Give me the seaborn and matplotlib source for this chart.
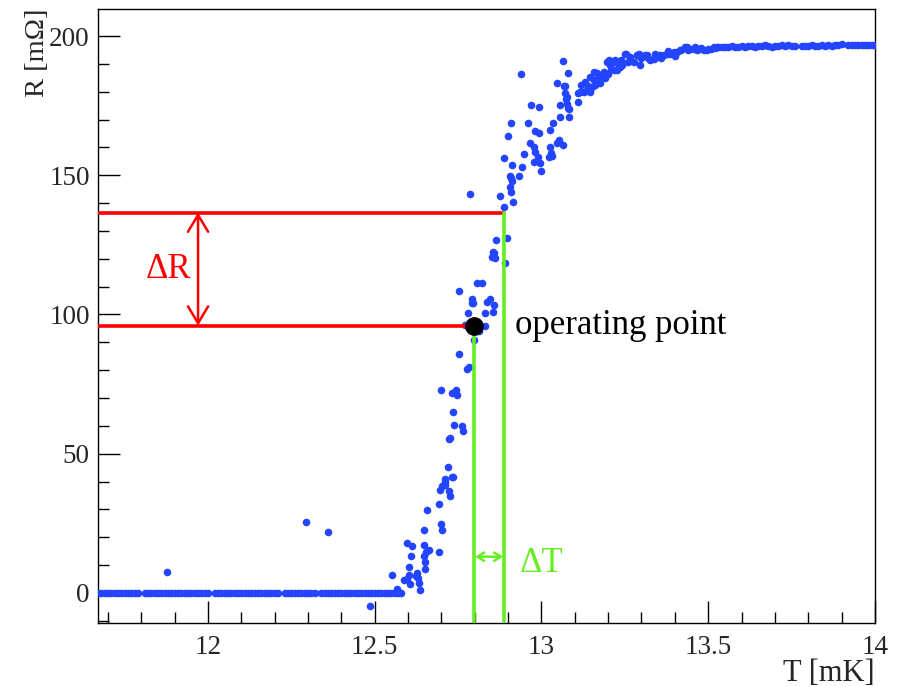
import numpy as np
import pandas as pd
import matplotlib
matplotlib.use("Agg")
import matplotlib.pyplot as plt
import seaborn as sns

# superconducting transition, R vs T
flat_t = [11.67, 11.68, 11.69, 11.70, 11.71, 11.72, 11.73, 11.74, 11.75, 11.76, 11.77, 11.78, 11.79,
          11.81, 11.82, 11.83, 11.84, 11.85, 11.86, 11.87, 11.88, 11.89, 11.90, 11.91, 11.92, 11.93,
          11.94, 11.95, 11.96, 11.97, 11.98, 11.99, 12.00, 12.02, 12.03, 12.04, 12.05, 12.06, 12.07,
          12.08, 12.09, 12.10, 12.11, 12.12, 12.13, 12.14, 12.15, 12.16, 12.17, 12.18, 12.19, 12.20,
          12.21, 12.23, 12.24, 12.25, 12.26, 12.27, 12.28, 12.29, 12.30, 12.31, 12.32, 12.34, 12.35,
          12.36, 12.37, 12.38, 12.39, 12.40, 12.41, 12.42, 12.43, 12.44, 12.45, 12.46, 12.47, 12.48,
          12.49, 12.50, 12.51, 12.52, 12.53, 12.54, 12.55, 12.56, 12.57, 12.58]
flat_r = [0.0] * len(flat_t)

trans_t = [11.876, 12.294, 12.359, 12.486, 12.553, 12.567, 12.589, 12.597, 12.602, 12.602, 12.605,
           12.597, 12.612, 12.610, 12.627, 12.629, 12.632, 12.635, 12.625, 12.652, 12.652, 12.649,
           12.655, 12.662, 12.647, 12.647, 12.657, 12.692, 12.700, 12.702, 12.692, 12.697, 12.702,
           12.712, 12.722, 12.727, 12.712, 12.719, 12.732, 12.710, 12.735, 12.722, 12.727, 12.737,
           12.762, 12.764, 12.735, 12.699, 12.732, 12.745, 12.747, 12.782, 12.777, 12.754, 12.799,
           12.771, 12.832, 12.814, 12.779, 12.830, 12.793, 12.796, 12.791, 12.847, 12.836, 12.859,
           12.855, 12.754, 12.807, 12.822, 12.890, 12.857, 12.852, 12.862, 12.854, 12.863, 12.897,
           12.787, 12.877, 12.887, 12.915, 12.905, 12.910, 12.912, 12.905, 12.910, 12.934, 12.913,
           12.942, 12.887, 12.947, 12.899, 12.909, 12.960, 12.940, 12.965, 12.977, 12.982, 12.989,
           12.977, 12.997, 12.999, 12.982, 12.992, 12.970, 12.994, 13.025, 13.029, 13.022, 13.032,
           13.052, 13.047, 13.065, 13.027, 13.035, 13.057, 13.084, 13.057, 13.071, 13.074, 13.076,
           13.079, 13.082, 13.047, 13.067, 13.065, 13.079, 13.110, 13.109, 13.072, 13.077]
trans_r = [7.5, 25.5, 22.0, -4.8, 6.5, 1.5, 4.5, 5.1, 6.5, 9.3, 3.3,
           17.9, 16.7, 13.4, 7.2, 5.4, 3.6, 1.2, 6.0, 8.6, 11.0, 13.4,
           14.6, 15.3, 17.3, 22.7, 29.6, 14.6, 24.9, 22.5, 32.0, 37.1, 38.3,
           38.9, 36.5, 34.9, 40.0, 45.2, 41.6, 40.9, 41.6, 55.3, 55.7, 60.3,
           60.0, 58.2, 65.0, 72.9, 71.8, 72.9, 70.9, 81.3, 80.4, 85.8, 90.9,
           96.3, 95.9, 93.9, 100.7, 100.7, 105.5, 104.0, 104.0, 105.5, 104.3, 103.4,
           101.0, 108.6, 111.2, 111.2, 118.4, 122.0, 120.6, 120.2, 122.6, 126.8, 127.4,
           143.2, 142.6, 138.7, 140.5, 145.7, 144.1, 148.0, 149.7, 148.9, 149.7, 153.7,
           152.9, 156.1, 157.6, 164.1, 168.6, 168.9, 186.3, 161.7, 160.0, 158.5, 156.4,
           154.9, 154.3, 151.6, 166.0, 165.3, 175.2, 174.6, 160.0, 157.9, 156.7, 156.9,
           162.6, 161.7, 160.9, 166.2, 168.9, 171.0, 171.0, 175.2, 179.4, 177.2, 175.6,
           174.0, 173.7, 183.2, 182.1, 191.0, 186.8, 179.6, 176.4, 182.0, 178.2]

knee_t = [13.117, 13.120, 13.127, 13.130, 13.137, 13.140, 13.142, 13.147, 13.147, 13.152, 13.157,
          13.157, 13.160, 13.167, 13.167, 13.177, 13.177, 13.187, 13.187, 13.190, 13.197, 13.200,
          13.202, 13.207, 13.210, 13.217, 13.217, 13.222, 13.227, 13.232, 13.237, 13.240, 13.242,
          13.252, 13.254, 13.260, 13.267, 13.270, 13.277, 13.287, 13.288, 13.292, 13.297, 13.300,
          13.312, 13.317, 13.320, 13.327, 13.337, 13.340, 13.347, 13.357, 13.360, 13.367, 13.377,
          13.380, 13.387, 13.397, 13.400, 13.407, 13.417, 13.420, 13.432, 13.437, 13.440, 13.447,
          13.457, 13.460, 13.467, 13.477, 13.480, 13.487, 13.497, 13.500, 13.507, 13.517, 13.520,
          13.527]
knee_r = [180.0, 182.5, 180.0, 183.5, 180.6, 182.0, 180.6, 180.0, 185.4, 181.8, 187.2,
          184.2, 182.5, 184.2, 186.6, 183.0, 184.8, 186.6, 187.2, 185.0, 190.7, 186.5,
          191.3, 189.5, 188.0, 190.7, 187.7, 191.3, 187.7, 189.2, 188.8, 191.5, 189.7,
          193.7, 193.7, 190.5, 192.5, 191.0, 190.7, 193.1, 193.1, 193.7, 189.5, 192.0,
          193.1, 193.1, 192.0, 191.3, 191.9, 193.5, 192.5, 193.1, 192.0, 193.1, 193.7,
          194.5, 193.7, 194.3, 193.0, 194.3, 194.9, 195.0, 196.1, 196.1, 195.0, 195.5,
          195.5, 196.0, 194.9, 195.5, 195.8, 194.9, 194.9, 195.2, 195.5, 196.1, 195.6,
          196.1]

plateau_t = [13.53, 13.54, 13.55, 13.56, 13.57, 13.58, 13.59, 13.60, 13.61, 13.62, 13.63, 13.64,
             13.65, 13.66, 13.67, 13.68, 13.69, 13.70, 13.71, 13.72, 13.73, 13.74, 13.75, 13.76,
             13.78, 13.79, 13.80, 13.81, 13.82, 13.83, 13.84, 13.85, 13.86, 13.87, 13.88, 13.89,
             13.90, 13.92, 13.93, 13.94, 13.95, 13.96, 13.97, 13.98, 13.99, 14.00]
plateau_r = [196.0, 196.2, 195.9, 196.1, 196.3, 196.0, 196.2, 196.4, 196.1, 196.3, 196.5, 196.2,
             196.4, 196.3, 196.6, 196.4, 196.2, 196.5, 196.3, 196.6, 196.4, 196.7, 196.5, 196.3,
             196.4, 196.5, 196.3, 196.6, 196.4, 196.5, 196.7, 196.4, 196.6, 196.5, 196.8, 196.6,
             197.0, 196.6, 196.8, 196.7, 196.9, 196.7, 196.8, 196.9, 196.7, 196.8]

# operating point and the two readings around it
op_t, op_r = 12.797, 96.0
t2, r2 = 12.889, 136.6

data = pd.DataFrame({
    "T": flat_t + trans_t + knee_t + plateau_t,
    "R": flat_r + trans_r + knee_r + plateau_r,
})

sns.set_theme(style="ticks")
plt.rcParams['font.family'] = ['Liberation Serif', 'DejaVu Serif']

fig, ax = plt.subplots(figsize=(9.01, 6.87), dpi=100)
fig.subplots_adjust(left=0.1088, right=0.971, bottom=0.0932, top=0.9873)

xmin, xmax = 11.67, 14.0
ymin, ymax = -10.8, 209.8

sns.scatterplot(data=data, x="T", y="R", ax=ax, color="#2445ff", s=30, linewidth=0, zorder=3)

red = "#ff0000"
green = "#66ee22"
ax.plot([xmin, t2], [r2, r2], color=red, lw=2.6, zorder=4)
ax.plot([xmin, op_t], [op_r, op_r], color=red, lw=2.6, zorder=4)
ax.plot([op_t, op_t], [ymin, op_r], color=green, lw=2.6, zorder=4)
ax.plot([t2, t2], [ymin, r2], color=green, lw=2.6, zorder=4)
ax.plot([op_t], [op_r], "o", color="black", ms=12.5, zorder=5)

ax.annotate("", xy=(11.97, op_r), xytext=(11.97, r2),
            arrowprops=dict(arrowstyle="<->,head_length=0.55,head_width=0.33", color=red, lw=1.8,
                            shrinkA=0, shrinkB=0, mutation_scale=22))
ax.annotate("", xy=(op_t, 13), xytext=(t2, 13),
            arrowprops=dict(arrowstyle="<->,head_length=0.4,head_width=0.25", color=green, lw=1.8,
                            shrinkA=1, shrinkB=1, mutation_scale=12))

ax.text(11.88, 116, "ΔR", color=red, fontsize=25, ha="center", va="center")
ax.text(13.0, 10.5, "ΔT", color=green, fontsize=25, ha="center", va="center")
ax.text(12.922, 96, "operating point", color="black", fontsize=25, ha="left", va="center")

ax.set_xlim(xmin, xmax)
ax.set_ylim(ymin, ymax)
ax.set_xticks([12, 12.5, 13, 13.5, 14])
ax.set_xticklabels(["12", "12.5", "13", "13.5", "14"])
ax.set_yticks([0, 50, 100, 150, 200])
ax.set_xticks(np.arange(11.7, 14.01, 0.1), minor=True)
ax.set_yticks(np.arange(-10, 210, 10), minor=True)
ax.tick_params(axis="both", which="major", direction="in", length=16, width=1, labelsize=19.5,
               color="black", pad=6)
ax.tick_params(axis="both", which="minor", direction="in", length=8, width=1, color="black")
ax.tick_params(axis="x", pad=9)

for sp in ax.spines.values():
    sp.set_color("black")
    sp.set_linewidth(1.0)

ax.set_xlabel("T [mK]", fontsize=22, loc="right")
ax.set_ylabel("R [mΩ]", fontsize=20.5, loc="top")
ax.xaxis.set_label_coords(1.0, -0.058)
ax.yaxis.set_label_coords(-0.062, 1.0)

fig.savefig("out.png", dpi=100)
